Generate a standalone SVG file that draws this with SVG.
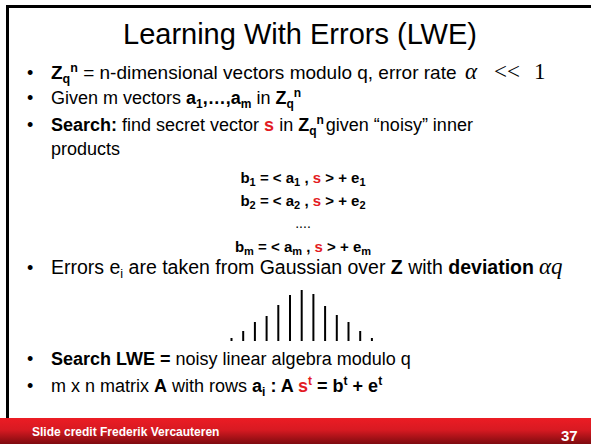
<svg xmlns="http://www.w3.org/2000/svg" width="591" height="444" viewBox="0 0 591 444">
<defs>
<linearGradient id="foot" x1="0" y1="0" x2="0" y2="1">
<stop offset="0" stop-color="#ec1c24"/>
<stop offset="0.45" stop-color="#d81a22"/>
<stop offset="1" stop-color="#7e0b0f"/>
</linearGradient>
<style>
text{font-family:"Liberation Sans",Arial,sans-serif;fill:#000}
.b{font-weight:bold}
.r{fill:#e31b23}
.t{font-size:18px}
.w{font-size:19px}
.w2{font-size:19.5px}
.eq{font-size:15px;font-weight:bold}
.m{font-family:"Liberation Serif","Times New Roman",serif;font-size:23px}
.bar{stroke:#000;stroke-width:2}
</style>
</defs>
<rect width="591" height="444" fill="#fff"/>
<g id="frame">
<rect x="6" y="5" width="585" height="3" fill="#000"/>
<rect x="6" y="5" width="3" height="413" fill="#000"/>
</g>
<g id="footer">
<rect x="0" y="418" width="591" height="26" fill="url(#foot)"/>
<text x="32" y="436" class="b" font-size="12" style="fill:#fff">Slide credit Frederik Vercauteren</text>
<text x="561" y="441" class="b" font-size="15" style="fill:#fff">37</text>
</g>
<g id="title">
<text x="300" y="44" text-anchor="middle" font-size="29">Learning With Errors (LWE)</text>
</g>
<g id="bullets">
<text x="27" y="79" class="t">•</text>
<text x="51" y="79" class="w"><tspan class="b">Z</tspan><tspan class="b" font-size="12.5" dy="4">q</tspan><tspan class="b" font-size="12.5" dy="-11">n</tspan><tspan dy="7"> = n-dimensional vectors modulo q, error rate</tspan><tspan class="m" font-style="italic" x="465">α</tspan><tspan class="m" x="494">&lt;&lt;</tspan><tspan class="m" x="534">1</tspan></text>
<text x="27" y="104" class="t">•</text>
<text x="51" y="104" class="t">Given m vectors <tspan class="b">a</tspan><tspan class="b" font-size="12" dy="4">1</tspan><tspan class="b" dy="-4">,…,a</tspan><tspan class="b" font-size="12" dy="4">m</tspan><tspan dy="-4"> in </tspan><tspan class="b">Z</tspan><tspan class="b" font-size="12" dy="4">q</tspan><tspan class="b" font-size="12" dy="-11">n</tspan></text>
<text x="27" y="131" class="t">•</text>
<text x="51" y="131" class="t"><tspan class="b">Search:</tspan> find secret vector <tspan class="b r">s</tspan> in <tspan class="b">Z</tspan><tspan class="b" font-size="12" dy="4">q</tspan><tspan class="b" font-size="12" dy="-11">n</tspan><tspan dy="7" dx="2">given “noisy” inner</tspan></text>
<text x="51" y="155" class="t">products</text>
</g>
<g id="equations">
<text x="303" y="183" text-anchor="middle" class="eq">b<tspan font-size="11" dy="3">1</tspan><tspan dy="-3"> = &lt; a</tspan><tspan font-size="11" dy="3">1</tspan><tspan dy="-3"> , </tspan><tspan class="r">s</tspan> &gt; + e<tspan font-size="11" dy="3">1</tspan></text>
<text x="303" y="206" text-anchor="middle" class="eq">b<tspan font-size="11" dy="3">2</tspan><tspan dy="-3"> = &lt; a</tspan><tspan font-size="11" dy="3">2</tspan><tspan dy="-3"> , </tspan><tspan class="r">s</tspan> &gt; + e<tspan font-size="11" dy="3">2</tspan></text>
<text x="303" y="228" text-anchor="middle" font-size="14">....</text>
<text x="303" y="252" text-anchor="middle" class="eq">b<tspan font-size="11" dy="3">m</tspan><tspan dy="-3"> = &lt; a</tspan><tspan font-size="11" dy="3">m</tspan><tspan dy="-3"> , </tspan><tspan class="r">s</tspan> &gt; + e<tspan font-size="11" dy="3">m</tspan></text>
</g>
<g id="errors">
<text x="27" y="274" class="t">•</text>
<text x="51" y="274" class="w2">Errors e<tspan font-size="12.5" dy="4">i</tspan><tspan dy="-4"> are taken from Gaussian over </tspan><tspan class="b">Z</tspan> with <tspan class="b">deviation</tspan><tspan class="m" font-style="italic" dx="5">αq</tspan></text>
</g>
<g id="gaussian" class="bar">
<line x1="231.5" y1="341" x2="231.5" y2="338"/>
<line x1="243.2" y1="341" x2="243.2" y2="331"/>
<line x1="254.9" y1="341" x2="254.9" y2="322"/>
<line x1="266.6" y1="341" x2="266.6" y2="316"/>
<line x1="278.3" y1="341" x2="278.3" y2="305"/>
<line x1="290" y1="341" x2="290" y2="295"/>
<line x1="301.7" y1="341" x2="301.7" y2="290"/>
<line x1="313.4" y1="341" x2="313.4" y2="294"/>
<line x1="325.1" y1="341" x2="325.1" y2="306"/>
<line x1="336.8" y1="341" x2="336.8" y2="315"/>
<line x1="348.5" y1="341" x2="348.5" y2="322"/>
<line x1="360.2" y1="341" x2="360.2" y2="331"/>
<line x1="371.9" y1="341" x2="371.9" y2="338"/>
</g>
<g id="bottom-bullets">
<text x="27" y="365" class="t">•</text>
<text x="51" y="365" class="t"><tspan class="b">Search LWE =</tspan> noisy linear algebra modulo q</text>
<text x="27" y="392" class="t">•</text>
<text x="51" y="392" class="t">m x n matrix <tspan class="b">A</tspan> with rows <tspan class="b">a</tspan><tspan class="b" font-size="12" dy="4">i</tspan><tspan class="b" dy="-4"> : A </tspan><tspan class="b r">s</tspan><tspan class="b r" font-size="12" dy="-7">t</tspan><tspan class="b" dy="7"> = b</tspan><tspan class="b" font-size="12" dy="-7">t</tspan><tspan class="b" dy="7"> + e</tspan><tspan class="b" font-size="12" dy="-7">t</tspan></text>
</g>
</svg>
